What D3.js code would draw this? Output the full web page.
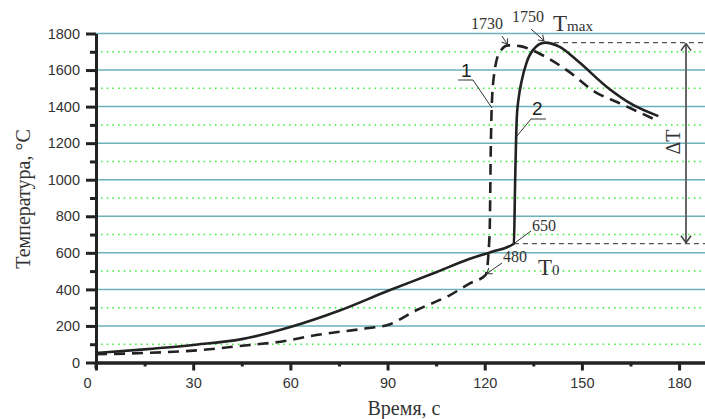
<!DOCTYPE html>
<html lang="ru">
<head>
<meta charset="utf-8">
<title>Температура</title>
<script src="https://cdn.jsdelivr.net/npm/d3@7"></script>
<style>
body { margin: 0; background: #fff; }
svg { display: block; }
.axis text { font-family: "Liberation Sans", Arial, sans-serif; font-size: 14.5px; fill: #333; }
.axis path, .axis line { stroke: #222; stroke-width: 3; }
.note { font-family: "Liberation Serif", "Times New Roman", serif; fill: #333; }
</style>
</head>
<body>
<script>
var w = 705, h = 419;

// tick values
var majorY = [0, 200, 400, 600, 800, 1000, 1200, 1400, 1600, 1800];
var minorY = [100, 300, 500, 700, 900, 1100, 1300, 1500, 1700];
var majorX = [0, 30, 60, 90, 120, 150, 180];
var minorX = [15, 45, 75, 105, 135, 165];

// curve 2 (solid)
var time2 = [0, 15, 30, 45, 60, 75, 90, 105, 115, 122, 129, 129.4, 129.9, 130.5, 131.4, 133, 135, 138.6, 143, 149, 157.6, 165.8, 173.6];
var temp2 = [52, 72, 96, 128, 194, 283, 391, 494, 565, 605, 650, 1000, 1340, 1450, 1540, 1645, 1712, 1750, 1728, 1645, 1509, 1409, 1348];

// curve 1 (dashed)
var time1 = [0, 15, 30, 47.5, 57, 68, 83.5, 90, 99, 109.3, 115.4, 120.3, 121.5, 121.9, 122.2, 123.1, 124.7, 127.3, 130.9, 134.5, 139.6, 146.3, 154, 161.7, 173.6];
var temp1 = [45, 52, 65, 96, 114, 150, 187, 205, 287, 369, 433, 480, 700, 1200, 1420, 1600, 1700, 1735, 1731, 1710, 1664, 1587, 1481, 1418, 1321];

var svg = d3.select("body").append("svg")
    .attr("width", w)
    .attr("height", h);

var x = d3.scaleLinear().domain([0, 188]).range([96, 705]);
var y = d3.scaleLinear().domain([0, 1800]).range([362.5, 33.5]);

var defs = svg.append("defs");
defs.append("marker")
    .attr("id", "tip")
    .attr("viewBox", "-6 -5 7 10")
    .attr("markerWidth", 7).attr("markerHeight", 10)
    .attr("markerUnits", "userSpaceOnUse")
    .attr("orient", "auto")
    .append("path")
    .attr("d", "M-5,-3.5 L0,0 L-5,3.5")
    .attr("fill", "none").attr("stroke", "#333").attr("stroke-width", 1);
defs.append("marker")
    .attr("id", "chev")
    .attr("viewBox", "-8 -7 9 14")
    .attr("markerWidth", 9).attr("markerHeight", 14)
    .attr("markerUnits", "userSpaceOnUse")
    .attr("orient", "auto-start-reverse")
    .append("path")
    .attr("d", "M-7,-5 L0,0 L-7,5")
    .attr("fill", "none").attr("stroke", "#444").attr("stroke-width", 1.6);

// grid
svg.append("g").selectAll("line")
    .data(majorY.slice(1))
    .enter().append("line")
    .attr("x1", x(0)).attr("x2", w)
    .attr("y1", function(d) { return y(d); })
    .attr("y2", function(d) { return y(d); })
    .attr("stroke", "#6cb0b8").attr("stroke-width", 1.5);

svg.append("g").selectAll("line")
    .data(minorY)
    .enter().append("line")
    .attr("x1", x(0) + 5).attr("x2", w)
    .attr("y1", function(d) { return y(d); })
    .attr("y2", function(d) { return y(d); })
    .attr("stroke", "#33ee33").attr("stroke-width", 1.5)
    .attr("stroke-dasharray", "1.5,4.2");

// axes
var fmt = d3.format("d");
var yAxis = d3.axisLeft(y).tickValues(majorY).tickFormat(fmt).tickSize(10).tickSizeOuter(0).tickPadding(6);
var yMinor = d3.axisLeft(y).tickValues(minorY).tickSize(6).tickSizeOuter(0).tickFormat("");
var xAxis = d3.axisBottom(x).tickValues(majorX).tickFormat(fmt).tickSize(8).tickSizeOuter(0).tickPadding(7);
var xMinor = d3.axisBottom(x).tickValues(minorX).tickSize(4).tickSizeOuter(0).tickFormat("");

svg.append("g").attr("class", "axis")
    .attr("transform", "translate(" + x(0) + ",0)").call(yMinor);
svg.append("g").attr("class", "axis")
    .attr("transform", "translate(" + x(0) + ",0)").call(yAxis);
svg.append("g").attr("class", "axis")
    .attr("transform", "translate(0," + y(0) + ")").call(xMinor);
var gx = svg.append("g").attr("class", "axis")
    .attr("transform", "translate(0," + y(0) + ")").call(xAxis);
gx.selectAll(".tick text").filter(function(d) { return d === 0; }).attr("dx", -9);

svg.append("line")
    .attr("x1", x(0)).attr("x2", x(0))
    .attr("y1", y(0)).attr("y2", y(0) + 6)
    .attr("stroke", "#222").attr("stroke-width", 3);

// axis titles
svg.append("text").attr("class", "note")
    .attr("x", 404).attr("y", 415)
    .attr("text-anchor", "middle")
    .attr("font-size", 20)
    .text("Время, с");
svg.append("text").attr("class", "note")
    .attr("transform", "translate(30,199) rotate(-90)")
    .attr("text-anchor", "middle")
    .attr("font-size", 20)
    .text("Температура, °С");

// reference dashed lines and ΔT arrow
svg.append("line")
    .attr("x1", x(138.6)).attr("x2", w)
    .attr("y1", y(1750)).attr("y2", y(1750))
    .attr("stroke", "#555").attr("stroke-width", 1.3).attr("stroke-dasharray", "5,4");
svg.append("line")
    .attr("x1", x(129)).attr("x2", w)
    .attr("y1", y(650)).attr("y2", y(650))
    .attr("stroke", "#555").attr("stroke-width", 1.3).attr("stroke-dasharray", "5,4");
svg.append("line")
    .attr("x1", 686).attr("x2", 686)
    .attr("y1", y(1750) + 1).attr("y2", y(650) - 1)
    .attr("stroke", "#666").attr("stroke-width", 2)
    .attr("marker-start", "url(#chev)")
    .attr("marker-end", "url(#chev)");
svg.append("text").attr("class", "note")
    .attr("transform", "translate(680,142) rotate(-90)")
    .attr("text-anchor", "middle")
    .attr("font-size", 20)
    .text("ΔT");

// curves
var line = d3.line()
    .x(function(d) { return x(d[0]); })
    .y(function(d) { return y(d[1]); })
    .curve(d3.curveMonotoneX);

svg.append("path")
    .datum(d3.zip(time1, temp1))
    .attr("d", line)
    .attr("fill", "none").attr("stroke", "#222")
    .attr("stroke-width", 2.6).attr("stroke-dasharray", "11,7");

svg.append("path")
    .datum(d3.zip(time2, temp2))
    .attr("d", line)
    .attr("fill", "none").attr("stroke", "#222")
    .attr("stroke-width", 2.6);

// annotations
function leader(x1, y1, x2, y2, arrow) {
    var l = svg.append("line")
        .attr("x1", x1).attr("y1", y1).attr("x2", x2).attr("y2", y2)
        .attr("stroke", "#333").attr("stroke-width", 1);
    if (arrow) l.attr("marker-end", "url(#tip)");
}

svg.append("text").attr("class", "note").attr("x", 471).attr("y", 29).attr("font-size", 16).text("1730");
leader(502, 36, x(127.3) - 1, y(1735) - 1, true);

svg.append("text").attr("class", "note").attr("x", 512).attr("y", 22).attr("font-size", 16).text("1750");
leader(531, 29, x(138.6) - 1, y(1750) - 2, true);

var tmax = svg.append("text").attr("class", "note").attr("x", 553).attr("y", 31).attr("font-size", 23);
tmax.append("tspan").text("T");
tmax.append("tspan").attr("font-size", 15).text("max");

var t0 = svg.append("text").attr("class", "note").attr("x", 538).attr("y", 275).attr("font-size", 23);
t0.append("tspan").text("T");
t0.append("tspan").attr("font-size", 15).text("0");

svg.append("text").attr("class", "note").attr("x", 532).attr("y", 231).attr("font-size", 16).text("650");
leader(531, 231, x(129), y(650), false);

svg.append("text").attr("class", "note").attr("x", 503).attr("y", 262).attr("font-size", 16).text("480");
leader(502, 263, x(120.3) + 1, y(480) - 1, true);

svg.append("text").attr("x", 461).attr("y", 77)
    .attr("font-family", "Liberation Sans, Arial, sans-serif").attr("font-size", 19).attr("fill", "#222").text("1");
leader(458, 80, 473, 80, false);
leader(473, 80, 492, 108, false);

svg.append("text").attr("x", 532).attr("y", 115)
    .attr("font-family", "Liberation Sans, Arial, sans-serif").attr("font-size", 19).attr("fill", "#222").text("2");
leader(531, 119, 546, 119, false);
leader(531, 119, 517, 136, false);
</script>
</body>
</html>
